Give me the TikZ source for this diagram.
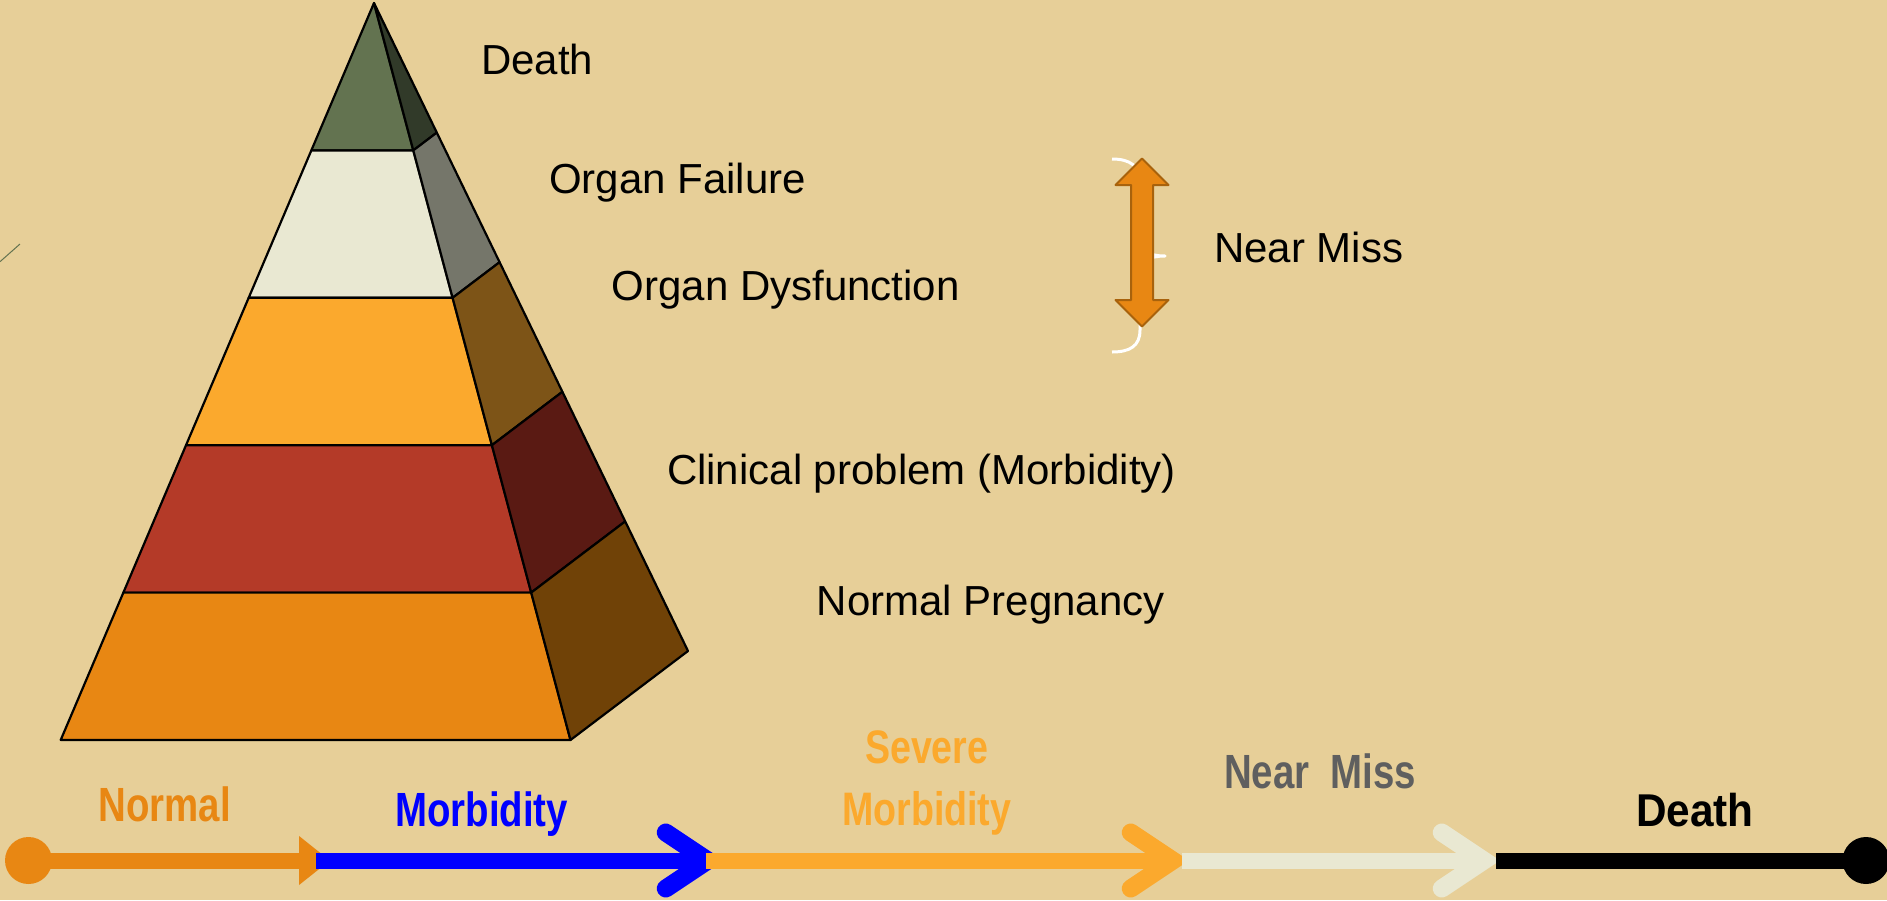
\documentclass[tikz,border=0pt]{standalone}
\usepackage{fontspec}
\setmainfont{Liberation Sans}
\newfontfamily\narrowfont[FakeStretch=0.8]{Liberation Sans}
\newfontfamily\deathfont[FakeStretch=0.92]{Liberation Sans}
\usetikzlibrary{arrows.meta, calc, shapes.arrows}

\definecolor{parchment}{HTML}{E7CF98}
\definecolor{deathF}{HTML}{637350}
\definecolor{deathS}{HTML}{313A29}
\definecolor{failF}{HTML}{E9E8D2}
\definecolor{failS}{HTML}{75766A}
\definecolor{dysF}{HTML}{FBA92D}
\definecolor{dysS}{HTML}{7D5417}
\definecolor{clinF}{HTML}{B43A28}
\definecolor{clinS}{HTML}{5A1A13}
\definecolor{normF}{HTML}{E88713}
\definecolor{normS}{HTML}{704207}
\definecolor{arrowedge}{HTML}{A8620C}
\definecolor{missgray}{HTML}{5F5F5F}

\begin{document}
\begin{tikzpicture}[x=1pt, y=-1pt, line join=round]
  \tikzset{
    lbl/.style={anchor=base west, inner sep=0pt, font=\fontsize{42}{50}\selectfont},
    tlbl/.style={anchor=base west, inner sep=0pt, font=\narrowfont\bfseries\fontsize{48}{56}\selectfont},
    face/.style={draw=black, line width=2.2pt},
    seg/.style={line width=16pt},
    barb/.style={-{Straight Barb[length=42pt, width=56pt, line width=18pt, line cap=round, line join=miter]}},
    dot/.style={circle, inner sep=0pt, minimum size=47pt},
    nmarrow/.style={shape=double arrow, rotate=90, draw=arrowedge, fill=normF, line width=2pt,
      inner xsep=0pt, inner ysep=10pt, minimum height=168pt,
      double arrow head extend=15.5pt, double arrow head indent=0pt}
  }

  \useasboundingbox (0,0) rectangle (1887,900);
  \fill[parchment] (0,0) rectangle (1887,900);
  \draw[deathF, line width=1pt] (0,261.7) -- (20,244);

  % pyramid
  \coordinate (apex) at (374,3);
  \coordinate (bl) at (60.7,740);
  \coordinate (br) at (570.5,740);
  \coordinate (bs) at (688,651);
  \foreach \i/\fc/\sc in {0/deathF/deathS, 1/failF/failS, 2/dysF/dysS, 3/clinF/clinS, 4/normF/normS}{
    \pgfmathsetmacro\ta{0.2*\i}
    \pgfmathsetmacro\tb{0.2*\i+0.2}
    \filldraw[face, fill=\fc] ($(apex)!\ta!(bl)$) -- ($(apex)!\tb!(bl)$) -- ($(apex)!\tb!(br)$) -- ($(apex)!\ta!(br)$) -- cycle;
    \filldraw[face, fill=\sc] ($(apex)!\ta!(br)$) -- ($(apex)!\tb!(br)$) -- ($(apex)!\tb!(bs)$) -- ($(apex)!\ta!(bs)$) -- cycle;
  }

  \node[lbl] (ldeath) at (481,74) {Death};
  \node[lbl] (lfail) at (549,193) {Organ Failure};
  \node[lbl] (ldys) at (611.5,300) {Organ Dysfunction};
  \node[lbl] (lclin) at (666.8,484.6) {Clinical problem (Morbidity)};
  \node[lbl] (lnorm) at (816.7,615) {Normal Pregnancy};

  % near miss
  \draw[white, line width=3pt] (1112,159) .. controls (1130,159) and (1140,166) .. (1140,182) -- (1140,240)
    .. controls (1140,250) and (1148,256) .. (1165,256) .. controls (1148,256) and (1140,262) .. (1140,272)
    -- (1140,330) .. controls (1140,346) and (1130,352) .. (1112,352);
  \node[nmarrow] (nmarrow) at (1142,242.5) {};
  \node[lbl] (lnear) at (1214,262.7) {Near Miss};

  % time line
  \coordinate (tnA) at (28.5,860.5);
  \coordinate (tnB) at (330,860.5);
  \coordinate (tmA) at (316,860.5);
  \coordinate (tmB) at (724,860.5);
  \coordinate (tsA) at (706,860.5);
  \coordinate (tsB) at (1189,860.5);
  \coordinate (tqA) at (1182,860.5);
  \coordinate (tqB) at (1500,860.5);
  \coordinate (tdA) at (1496,860.5);
  \coordinate (tdB) at (1866,860.5);

  \draw[seg, normF, -{Triangle[length=31pt, width=47pt]}] (tnA) -- (tnB);
  \node[dot, fill=normF] (startdot) at (tnA) {};
  \draw[seg, blue, barb] (tmA) -- (tmB);
  \draw[seg, dysF, barb] (tsA) -- (tsB);
  \draw[seg, failF, barb] (tqA) -- (tqB);
  \draw[seg, black] (tdA) -- (tdB);
  \node[dot, fill=black] (enddot) at (tdB) {};

  \node[tlbl, text=normF] (tnormal) at (98.3,821.7) {Normal};
  \node[tlbl, text=blue] (tmorb) at (395,826) {Morbidity};
  \node[tlbl, anchor=base, text=dysF, font=\narrowfont\bfseries\fontsize{47}{56}\selectfont] (tsev) at (926.7,763.3) {Severe};
  \node[tlbl, anchor=base, text=dysF, font=\narrowfont\bfseries\fontsize{47}{56}\selectfont] (tsevmorb) at (926.7,825) {Morbidity};
  \node[tlbl, text=missgray] (tnear) at (1224,788) {Near\ \ Miss};
  \node[tlbl, text=black, font=\deathfont\bfseries\fontsize{46}{56}\selectfont] (tdeath) at (1636,826.7) {Death};
\end{tikzpicture}
\end{document}
